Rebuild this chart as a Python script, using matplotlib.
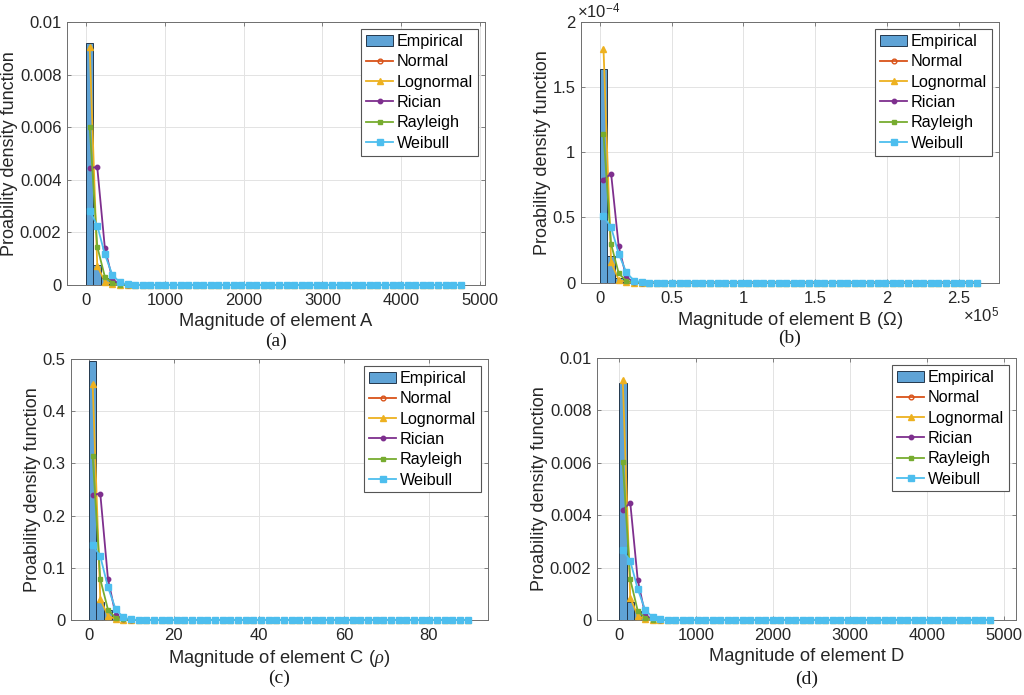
import matplotlib
matplotlib.use("Agg")
import matplotlib.pyplot as plt
import numpy as np

plt.rcParams['font.family'] = ['Liberation Sans', 'DejaVu Sans']
plt.rcParams['mathtext.fontset'] = 'custom'
plt.rcParams['mathtext.rm'] = 'Liberation Sans'
plt.rcParams['mathtext.it'] = 'Liberation Serif:italic'

N_BINS = 50
series_names = ["Normal", "Lognormal", "Rician", "Rayleigh", "Weibull"]
series_colors = ["#D95319", "#EDB120", "#7E2F8E", "#77AC30", "#4DBEEE"]
series_markers = ["o", "^", "o", "s", "s"]
series_msize = [3.4, 4.6, 3.2, 2.4, 3.8]

# ---- panel A ----
a_binwidth = 96.0
a_empirical = [0.00921, 0.00076, 0.00028, 0.00010, 0.00003]
a_normal = [0.0]
a_lognormal = [0.00906, 0.00073, 0.00013, 0.00004, 0.00001]
a_rician = [0.00446, 0.00448, 0.00142, 0.00022, 0.00002]
a_rayleigh = [0.00602, 0.00146, 0.00032, 0.00008, 0.00001]
a_weibull = [0.00283, 0.00226, 0.00117, 0.00038, 0.00010, 0.00002]

# ---- panel B ----
b_binwidth = 5300.0
b_empirical = [1.636e-4, 0.205e-4, 0.035e-4, 0.008e-4]
b_normal = [0.0]
b_lognormal = [1.795e-4, 0.157e-4, 0.020e-4, 0.004e-4]
b_rician = [0.790e-4, 0.836e-4, 0.277e-4, 0.040e-4, 0.003e-4]
b_rayleigh = [1.140e-4, 0.295e-4, 0.070e-4, 0.012e-4, 0.001e-4]
b_weibull = [0.508e-4, 0.423e-4, 0.221e-4, 0.077e-4, 0.015e-4, 0.002e-4]

# ---- panel C ----
c_binwidth = 1.8
c_empirical = [0.497, 0.034, 0.020, 0.005]
c_normal = [0.0]
c_lognormal = [0.452, 0.040, 0.008, 0.002]
c_rician = [0.240, 0.242, 0.079, 0.010, 0.001]
c_rayleigh = [0.315, 0.078, 0.020, 0.004, 0.001]
c_weibull = [0.144, 0.122, 0.063, 0.021, 0.005, 0.001]

# ---- panel D ----
d_binwidth = 97.3
d_empirical = [0.00905, 0.00068, 0.00035, 0.00010]
d_normal = [0.0]
d_lognormal = [0.00917, 0.00085, 0.00016, 0.00004]
d_rician = [0.00420, 0.00448, 0.00153, 0.00019, 0.00002]
d_rayleigh = [0.00603, 0.00155, 0.00035, 0.00008, 0.00001]
d_weibull = [0.00268, 0.00225, 0.00118, 0.00038, 0.00010, 0.00002]

panels = [
    dict(bw=a_binwidth, emp=a_empirical, fits=[a_normal, a_lognormal, a_rician, a_rayleigh, a_weibull],
         xlim=(-240, 5060), xticks=[0, 1000, 2000, 3000, 4000, 5000], xticklabels=["0", "1000", "2000", "3000", "4000", "5000"],
         ylim=(0, 0.01), yticks=[0, 0.002, 0.004, 0.006, 0.008, 0.01], yticklabels=["0", "0.002", "0.004", "0.006", "0.008", "0.01"],
         xlabel="Magnitude of element A", caption="(a)", cap_y=-0.215, rect=[0.0654, 0.5899, 0.4082, 0.3784]),
    dict(bw=b_binwidth, emp=b_empirical, fits=[b_normal, b_lognormal, b_rician, b_rayleigh, b_weibull],
         xlim=(-13000, 278000), xticks=[0, 50000, 100000, 150000, 200000, 250000], xticklabels=["0", "0.5", "1", "1.5", "2", "2.5"],
         ylim=(0, 2e-4), yticks=[0, 0.5e-4, 1e-4, 1.5e-4, 2e-4], yticklabels=["0", "0.5", "1", "1.5", "2"],
         xlabel="Magnitude of element B ($\\Omega$)", caption="(b)", cap_y=-0.215, rect=[0.5674, 0.5935, 0.4082, 0.3748]),
    dict(bw=c_binwidth, emp=c_empirical, fits=[c_normal, c_lognormal, c_rician, c_rayleigh, c_weibull],
         xlim=(-4.2, 93.9), xticks=[0, 20, 40, 60, 80], xticklabels=["0", "20", "40", "60", "80"],
         ylim=(0, 0.5), yticks=[0, 0.1, 0.2, 0.3, 0.4, 0.5], yticklabels=["0", "0.1", "0.2", "0.3", "0.4", "0.5"],
         xlabel="Magnitude of element C ($\\rho$)", caption="(c)", cap_y=-0.225, rect=[0.0693, 0.1079, 0.4073, 0.3756]),
    dict(bw=d_binwidth, emp=d_empirical, fits=[d_normal, d_lognormal, d_rician, d_rayleigh, d_weibull],
         xlim=(-286, 5156), xticks=[0, 1000, 2000, 3000, 4000, 5000], xticklabels=["0", "1000", "2000", "3000", "4000", "5000"],
         ylim=(0, 0.01), yticks=[0, 0.002, 0.004, 0.006, 0.008, 0.01], yticklabels=["0", "0.002", "0.004", "0.006", "0.008", "0.01"],
         xlabel="Magnitude of element D", caption="(d)", cap_y=-0.225, rect=[0.5830, 0.1079, 0.4092, 0.3770]),
]

def pad(vals, n):
    out = np.zeros(n)
    out[:len(vals)] = vals
    return out

fig = plt.figure(figsize=(10.24, 6.95), dpi=100)
frame_col = "#6e6e6e"
text_col = "#262626"
for i, p in enumerate(panels):
    ax = fig.add_axes(p["rect"])
    edges = np.arange(N_BINS + 1) * p["bw"]
    centers = (edges[:-1] + edges[1:]) / 2
    emp = pad(p["emp"], N_BINS)
    handles = []
    bars = ax.bar(edges[:-1], emp, width=p["bw"], align="edge", color="#5fa3d6",
                  edgecolor="#24384d", linewidth=0.7, label="Empirical", zorder=2)
    handles.append(bars)
    for name, col, mk, ms, vals in zip(series_names, series_colors, series_markers, series_msize, p["fits"]):
        y = pad(vals, N_BINS)
        mfc = "none" if name == "Normal" else col
        z = 1.5 if name == "Normal" else 3
        ln, = ax.plot(centers, y, color=col, marker=mk, markersize=ms, markerfacecolor=mfc,
                      markeredgecolor=col, linewidth=1.3, label=name, zorder=z,
                      clip_on=(name == "Normal"))
        handles.append(ln)
    ax.set_xlim(*p["xlim"])
    ax.set_ylim(*p["ylim"])
    ax.set_xticks(p["xticks"])
    ax.set_xticklabels(p["xticklabels"])
    ax.set_yticks(p["yticks"])
    ax.set_yticklabels(p["yticklabels"])
    ax.grid(True, color="#e3e3e3", linewidth=0.7, zorder=0)
    ax.set_axisbelow(True)
    ax.tick_params(direction="in", top=True, right=True, length=3, width=0.6,
                   color=frame_col, labelsize=12, labelcolor=text_col)
    ax.tick_params(axis="x", pad=6)
    ax.tick_params(axis="y", pad=4)
    for s in ax.spines.values():
        s.set_color(frame_col)
        s.set_linewidth(0.7)
    ax.set_xlabel(p["xlabel"], fontsize=13.2, color=text_col, labelpad=3)
    ax.set_ylabel("Proability density function", fontsize=13, color=text_col, labelpad=1)
    leg = ax.legend(handles=handles, labels=["Empirical"] + series_names,
                    loc="upper right", fontsize=11.6, frameon=True, fancybox=False,
                    borderaxespad=0.45, handlelength=1.7, handletextpad=0.2,
                    borderpad=0.3, labelspacing=0.33, framealpha=1.0)
    leg.get_frame().set_edgecolor("#555555")
    leg.get_frame().set_linewidth(0.8)
    ax.text(0.5, p["cap_y"], p["caption"], transform=ax.transAxes, ha="center", va="center",
            fontsize=14, family="Liberation Serif", color="#1a1a1a")
    if i == 1:
        ax.text(-0.01, 1.003, "$\\times10^{-4}$", transform=ax.transAxes, ha="left", va="bottom",
                fontsize=12, color=text_col)
        ax.text(1.0, -0.09, "$\\times10^{5}$", transform=ax.transAxes, ha="right", va="top",
                fontsize=12, color=text_col)

fig.savefig("out.png", dpi=100)
